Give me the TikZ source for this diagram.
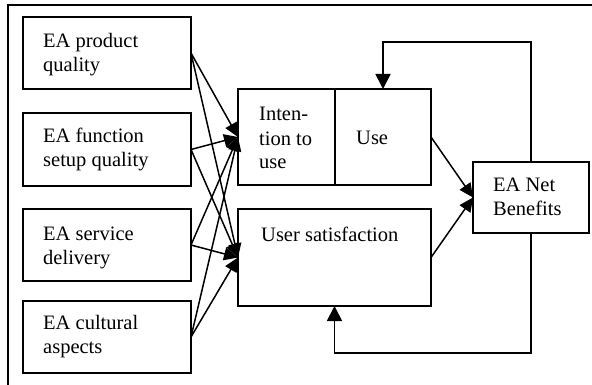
\documentclass[tikz,border=0pt]{standalone}
\usepackage{fontspec}
\setmainfont{Liberation Serif}
\usetikzlibrary{arrows.meta}
\begin{document}
\begin{tikzpicture}[x=1pt,y=-1pt,
  box/.style={draw,line width=1.8pt,rectangle,inner sep=0pt,outer sep=0pt},
  lbl/.style={anchor=base west,inner sep=0pt,align=left,font=\fontsize{20.5}{24}\selectfont},
  arr/.style={line width=1.5pt,-{Triangle[length=14pt,width=13pt]}},
  fb/.style={line width=1.8pt,-{Triangle[length=15pt,width=15pt]}}]
\useasboundingbox (0,0) rectangle (592,385);
% frame
\draw[line width=2pt] (8,386) -- (8,5) -- (593,5);
% source boxes
\node[box,minimum width=168pt,minimum height=72pt] (p1) at (107,53) {};
\node[box,minimum width=168pt,minimum height=73pt] (p2) at (107,149.5) {};
\node[box,minimum width=168pt,minimum height=72pt] (p3) at (107,245) {};
\node[box,minimum width=168pt,minimum height=72pt] (p4) at (107,337) {};
\node[lbl] (t1) at (43,72) {EA product\\quality};
\node[lbl] (t2) at (43,167) {EA function\\setup quality};
\node[lbl] (t3) at (43,264) {EA service\\delivery};
\node[lbl] (t4) at (43,353) {EA cultural\\aspects};
% middle boxes
\node[box,minimum width=97pt,minimum height=96pt] (int) at (286.5,137) {};
\node[box,minimum width=96pt,minimum height=96pt] (use) at (383,137) {};
\node[box,minimum width=193pt,minimum height=97pt] (sat) at (334.5,257.5) {};
\node[lbl] (tint) at (259,169) {Inten-\\tion to\\use};
\node[lbl] (tuse) at (356,145) {Use};
\node[lbl] (tsat) at (261,241) {User satisfaction};
% net benefits
\node[box,minimum width=116pt,minimum height=71pt] (net) at (531,197.5) {};
\node[lbl] (tnet) at (493,215) {EA Net\\Benefits};
% arrows from sources
\foreach \s in {p1,p2,p3,p4}{
  \draw[arr] (\s.east) -- (int.west);
  \draw[arr] (\s.east) -- (sat.west);
}
\draw[arr] (use.east) -- (net.west);
\draw[arr] (sat.east) -- (net.west);
% feedback loops
\coordinate (tl) at (383,42);
\coordinate (bl) at (334.5,353);
\draw[fb] (net.north) |- (tl) -- (use.north);
\draw[fb] (net.south) |- (bl) -- (sat.south);
\end{tikzpicture}
\end{document}
